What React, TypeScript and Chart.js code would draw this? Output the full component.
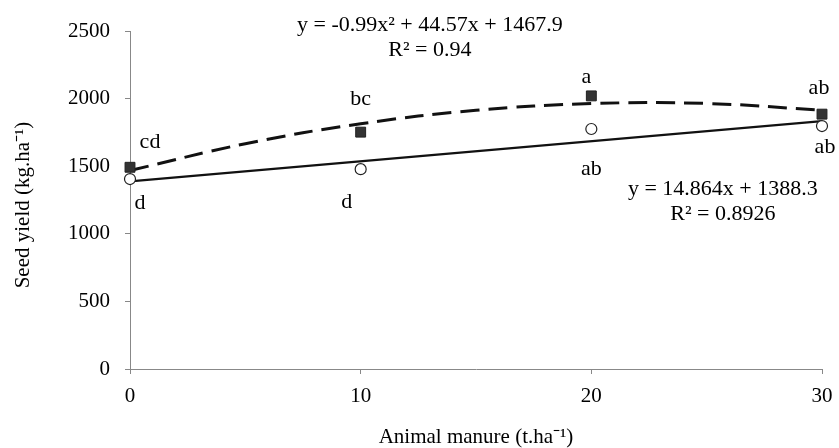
import React, { useEffect, useRef } from "react";
import { Chart, registerables } from "chart.js";

Chart.register(...registerables);

// Observed means
const manureLevels = [0, 10, 20, 30];
const seriesSquares = [1492, 1752, 2020, 1885];
const seriesCircles = [1405, 1478, 1775, 1797];
const squareLetters = ["cd", "bc", "a", "ab"];
const circleLetters = ["d", "d", "ab", "ab"];

// Trend lines
const curveX = [0, 5, 10, 15, 20, 25, 30];
const curveY = [1468, 1666, 1814, 1913, 1963, 1964, 1914];
const lineX = [0, 30];
const lineY = [1388, 1834];

const yTicks = [0, 500, 1000, 1500, 2000, 2500];
const xTicks = [0, 10, 20, 30];

const eq1 = ["y = -0.99x² + 44.57x + 1467.9", "R² = 0.94"];
const eq2 = ["y = 14.864x + 1388.3", "R² = 0.8926"];
const xTitle = "Animal manure (t.ha⁻¹)";
const yTitle = "Seed yield (kg.ha⁻¹)";

const FONT = "'Liberation Serif', 'Times New Roman', serif";

const annotPlugin = {
  id: "annot",
  afterDatasetsDraw(chart: any) {
    const { ctx, scales } = chart;
    const xs = scales.x;
    const ys = scales.y;
    ctx.save();
    ctx.fillStyle = "#000";
    ctx.font = `22px ${FONT}`;
    ctx.textAlign = "center";
    ctx.textBaseline = "middle";
    // letters above squares
    const upOff = [[20, -25], [0, -33], [-5, -19], [-3, -26]];
    manureLevels.forEach((x, i) => {
      const px = xs.getPixelForValue(x);
      const py = ys.getPixelForValue(seriesSquares[i]);
      ctx.fillText(squareLetters[i], px + upOff[i][0], py + upOff[i][1]);
    });
    const downOff = [[10, 24], [-14, 33], [0, 40], [3, 21]];
    manureLevels.forEach((x, i) => {
      const px = xs.getPixelForValue(x);
      const py = ys.getPixelForValue(seriesCircles[i]);
      ctx.fillText(circleLetters[i], px + downOff[i][0], py + downOff[i][1]);
    });
    // equations
    ctx.font = `22px ${FONT}`;
    const e1x = xs.getPixelForValue(13.0);
    ctx.fillText(eq1[0], e1x, 25);
    ctx.fillText(eq1[1], e1x, 50);
    const e2x = xs.getPixelForValue(25.7);
    const e2y = ys.getPixelForValue(1330);
    ctx.fillText(eq2[0], e2x, e2y);
    ctx.fillText(eq2[1], e2x, e2y + 25);
    // axis titles
    ctx.font = `21px ${FONT}`;
    ctx.fillText(xTitle, (xs.left + xs.right) / 2, 437);
    ctx.translate(23, (ys.top + ys.bottom) / 2 + 5);
    ctx.rotate(-Math.PI / 2);
    ctx.fillText(yTitle, 0, 0);
    ctx.restore();
  },
};

export default function App() {
  const ref = useRef<HTMLCanvasElement>(null);
  useEffect(() => {
    document.body.style.margin = "0";
    const canvas = ref.current!;
    const chart = new Chart(canvas, {
      type: "scatter",
      data: {
        datasets: [
          {
            label: "squares",
            data: manureLevels.map((x, i) => ({ x, y: seriesSquares[i] })),
            pointStyle: "rect",
            pointRadius: 7,
            backgroundColor: "#333",
            borderColor: "#222",
            borderWidth: 1,
            showLine: false,
            clip: false,
          } as any,
          {
            label: "circles",
            data: manureLevels.map((x, i) => ({ x, y: seriesCircles[i] })),
            pointStyle: "circle",
            pointRadius: 5.5,
            backgroundColor: "#fff",
            borderColor: "#222",
            borderWidth: 1.2,
            showLine: false,
            clip: false,
          } as any,
          {
            label: "curve",
            data: curveX.map((x, i) => ({ x, y: curveY[i] })),
            showLine: true,
            pointRadius: 0,
            borderColor: "#111",
            borderWidth: 3,
            borderDash: [19, 9],
            tension: 0.4,
            clip: false,
          } as any,
          {
            label: "line",
            data: lineX.map((x, i) => ({ x, y: lineY[i] })),
            showLine: true,
            pointRadius: 0,
            borderColor: "#111",
            borderWidth: 2.2,
            clip: false,
          } as any,
        ],
      },
      options: {
        animation: false,
        responsive: false,
        events: [],
        layout: { padding: { top: 31, right: 17, left: 0, bottom: 0 } },
        plugins: { legend: { display: false }, tooltip: { enabled: false } },
        scales: {
          x: {
            type: "linear",
            min: 0,
            max: 30,
            afterBuildTicks: (s: any) => {
              s.ticks = xTicks.map((v) => ({ value: v }));
            },
            afterFit: (s: any) => {
              s.height = 79;
              s.paddingLeft = 0;
              s.paddingRight = 0;
            },
            grid: { display: true, drawOnChartArea: false, drawTicks: true, tickLength: 5, color: "#888" },
            border: { display: true, color: "#888", width: 1 },
            ticks: {
              color: "#000",
              font: { family: FONT, size: 21 },
              padding: 10,
              maxRotation: 0,
              callback: (v: any) => String(v),
            },
          },
          y: {
            type: "linear",
            min: 0,
            max: 2500,
            afterBuildTicks: (s: any) => {
              s.ticks = yTicks.map((v) => ({ value: v }));
            },
            afterFit: (s: any) => {
              s.width = 130;
              s.paddingTop = 0;
              s.paddingBottom = 0;
            },
            grid: { display: true, drawOnChartArea: false, drawTicks: true, tickLength: 5, color: "#888" },
            border: { display: true, color: "#888", width: 1 },
            ticks: {
              color: "#000",
              font: { family: FONT, size: 21 },
              padding: 15,
              callback: (v: any) => String(v),
            },
          },
        },
      },
      plugins: [annotPlugin],
    });
    return () => chart.destroy();
  }, []);
  return (
    <div style={{ width: 839, height: 448, background: "#fff" }}>
      <canvas ref={ref} width={839} height={448} />
    </div>
  );
}
